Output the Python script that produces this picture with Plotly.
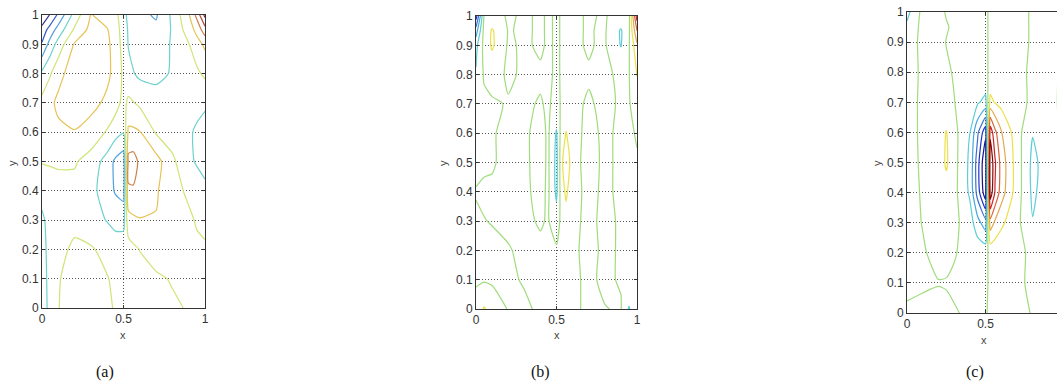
import plotly.graph_objects as go

# ---------------- data ----------------
xs_ab = [0, 0.05, 0.1, 0.2, 0.3, 0.4, 0.45, 0.5, 0.53, 0.56, 0.6, 0.7, 0.8, 0.9, 0.95, 1.0]
xs_c = [0, 0.1, 0.2, 0.25, 0.3, 0.4, 0.45, 0.5, 0.53, 0.56, 0.6, 0.7, 0.8, 0.9, 1.0]
ys = [0, 0.1, 0.2, 0.3, 0.4, 0.5, 0.6, 0.7, 0.8, 0.9, 0.95, 1.0]

z_a = [
    [-1.5, -0.7, -0.02, 0.3, 0.25, 0.1, -0.05, -0.3, -0.35, -0.35, -0.3, -0.2, -0.1, 0.05, 0.1, 0.15],
    [-1.4, -0.7, -0.05, 0.3, 0.25, 0.05, -0.2, -0.4, -0.4, -0.35, -0.3, -0.1, 0.05, 0.2, 0.2, 0.2],
    [-1.3, -0.7, -0.3, 0.2, 0.1, -0.3, -0.5, -0.5, -0.4, -0.2, 0.02, 0.3, 0.35, 0.3, 0.2, 0.15],
    [-1.2, -0.6, -0.5, -0.3, -0.6, -1.05, -1.3, -1.3, 0.6, 0.8, 0.95, 0.95, 0.6, 0.2, -0.1, -0.3],
    [-0.6, -0.5, -0.4, -0.3, -0.7, -1.5, -2.1, -2.4, 1.9, 1.9, 1.6, 1.1, 0.4, -0.2, -0.5, -0.8],
    [0.05, 0.1, 0.15, 0.1, -0.4, -1.4, -2.2, -2.6, 2.3, 2.4, 1.8, 1.4, 0.2, -0.8, -1.1, -1.3],
    [0.3, 0.5, 0.8, 0.95, 0.6, -0.1, -0.6, -0.95, 1.2, 1.2, 1.05, -0.1, -0.5, -0.9, -1.1, -1.25],
    [0.3, 0.8, 1.2, 1.5, 1.3, 0.8, 0.4, -0.3, 0.2, 0.05, -0.2, -0.5, -0.6, -0.7, -0.8, -0.9],
    [-0.8, -0.1, 0.7, 1.5, 1.7, 1.2, 0.7, -0.2, -0.7, -0.95, -1.2, -1.3, -0.9, -0.5, -0.2, 0.2],
    [-2.9, -1.6, -0.6, 1.1, 1.6, 1.2, 0.6, -0.4, -1.05, -1.3, -1.4, -1.5, -0.9, -0.05, 0.6, 1.2],
    [-3.6, -2.6, -1.6, 0.15, 1.3, 1.05, 0.5, -0.5, -1.1, -1.5, -1.7, -1.8, -0.9, 0.5, 1.3, 2.6],
    [-5.0, -3.9, -2.8, -0.6, 1.05, 0.6, 0.3, -0.6, -1.3, -1.6, -1.8, -2.1, -0.8, 0.9, 2.3, 4.3],
]

z_b = [
    [0.3, 1.1, 0.6, -0.05, -0.1, 0.1, 0.15, 0.1, 0.1, 0.15, 0.1, -0.1, -0.02, 0.05, -1.1, -0.2],
    [-0.1, -0.1, -0.15, -0.1, 0.05, 0.15, 0.1, 0.1, 0.15, 0.15, 0.1, -0.1, 0.1, -0.05, -0.1, -0.15],
    [-0.15, -0.15, -0.15, -0.05, 0.15, 0.1, 0.1, 0.15, 0.2, 0.2, 0.1, -0.15, 0.1, -0.05, -0.1, -0.1],
    [-0.05, -0.02, 0.03, 0.15, 0.1, -0.05, 0.05, -0.6, 0.3, 0.6, 0.1, -0.1, 0.1, -0.05, -0.1, -0.1],
    [0.02, 0.1, 0.08, 0.15, 0.1, -0.15, 0.1, -1.2, 0.5, 1.2, 0.2, -0.15, 0.1, -0.1, -0.1, -0.05],
    [-0.1, -0.1, -0.05, 0.15, 0.1, -0.2, 0.1, -1.3, 0.6, 2.02, 0.2, -0.2, 0.1, -0.1, -0.1, -0.05],
    [-0.15, -0.15, -0.05, 0.15, 0.1, -0.2, 0.1, -1.1, 0.4, 1.05, 0.2, -0.15, 0.1, -0.1, -0.1, 0.05],
    [-0.3, -0.2, -0.1, 0.05, 0.1, -0.05, 0.1, -0.3, 0.1, 0.3, 0.1, -0.05, 0.1, -0.05, -0.05, 0.3],
    [-0.9, 0.1, 0.3, -0.1, 0.1, 0.1, 0.1, -0.1, 0.05, 0.1, 0.1, 0.05, 0.1, -0.1, -0.05, 1.05],
    [-1.3, 0.3, 1.15, -0.1, 0.1, -0.1, 0.1, -0.1, 0.05, 0.1, 0.1, -0.05, 0.1, -1.05, -0.1, 1.8],
    [-2.5, 0.3, 1.1, -0.05, 0.1, -0.1, 0.1, -0.1, 0.05, 0.1, 0.1, -0.05, 0.1, -1.1, -0.2, 3.0],
    [-4.5, 0.1, 0.4, -0.1, 0.1, -0.1, 0.1, -0.1, 0.05, 0.1, 0.1, -0.05, 0.05, -0.3, -0.3, 4.5],
]

z_c = [
    [0.1, 0.2, 0.15, 0.1, 0.05, -0.1, -0.15, -0.05, 0.1, 0.15, 0.15, 0.1, -0.02, -0.15, 0.05],
    [-0.15, -0.1, -0.02, -0.03, -0.1, -0.2, -0.2, -0.1, 0.1, 0.15, 0.15, 0.1, -0.1, -0.15, 0.1],
    [-0.2, -0.05, 0.15, 0.15, 0.05, -0.24, -0.34, -0.34, 0.34, 0.31, 0.25, 0.12, -0.1, -0.15, 0.1],
    [-0.2, 0.02, 0.25, 0.3, 0.25, -0.52, -1.63, -2.58, 2.58, 1.83, 1.21, 0.27, -0.95, -0.3, 0.15],
    [-0.2, 0.05, 0.3, 0.6, 0.3, -1.15, -3.43, -5.7, 5.7, 3.95, 2.48, 0.48, -1.2, -0.4, 0.15],
    [-0.2, 0.08, 0.35, 1.15, 0.35, -1.2, -3.6, -6.0, 6.0, 4.15, 2.6, 0.5, -1.25, -0.5, 0.2],
    [-0.2, 0.1, 0.3, 1.05, 0.3, -0.98, -2.85, -4.7, 4.7, 3.27, 2.07, 0.41, -0.95, -0.35, 0.2],
    [-0.2, 0.1, 0.25, 0.2, 0.02, -0.4, -0.88, -1.28, 1.28, 0.95, 0.68, 0.18, -0.1, -0.2, 0.15],
    [-0.25, 0.1, 0.25, 0.1, -0.05, -0.22, -0.27, -0.22, 0.22, 0.23, 0.25, 0.16, -0.1, -0.15, 0.1],
    [-0.3, 0.15, 0.25, -0.02, -0.1, -0.2, -0.2, -0.1, 0.1, 0.15, 0.2, 0.15, -0.05, -0.15, 0.1],
    [-0.8, 0.3, 0.2, 0.05, -0.1, -0.2, -0.2, -0.1, 0.1, 0.15, 0.2, 0.15, -0.05, -0.15, 0.1],
    [-1.3, 0.3, 0.2, -0.05, -0.15, -0.2, -0.2, -0.1, 0.1, 0.15, 0.2, 0.15, -0.05, -0.15, 0.1],
]

x_tickvals = [0, 0.5, 1]
x_ticktext = ["0", "0.5", "1"]
y_tickvals = [0, 0.1, 0.2, 0.3, 0.4, 0.5, 0.6, 0.7, 0.8, 0.9, 1.0]
y_ticktext = ["0", "0.1", "0.2", "0.3", "0.4", "0.5", "0.6", "0.7", "0.8", "0.9", "1"]
panel_labels = ["(a)", "(b)", "(c)"]

# ---------------- styles ----------------
colors_a = ["rgb(40,40,140)", "rgb(50,90,200)", "rgb(80,160,220)", "rgb(110,210,205)",
            "rgb(205,230,120)", "rgb(230,195,85)", "rgb(205,130,75)", "rgb(185,70,55)",
            "rgb(140,25,30)"]
colors_bc = ["rgb(20,20,130)", "rgb(30,50,200)", "rgb(60,110,210)", "rgb(70,165,225)",
             "rgb(95,205,215)", "rgb(160,220,125)", "rgb(235,225,75)", "rgb(225,170,80)",
             "rgb(215,100,60)", "rgb(200,35,35)", "rgb(130,10,10)"]


def discrete_scale(cols):
    n = len(cols)
    return [[i / (n - 1), c] for i, c in enumerate(cols)]


W, H = 1057, 383
panels = [
    dict(x=xs_ab, z=z_a, lv=(-4, 4), cols=colors_a, px=(42, 205), py=(15, 308), xr=[0, 1],
         xt=(123, 335), yt=(12, 163), lab=(105, 372), right_box=True),
    dict(x=xs_ab, z=z_b, lv=(-5, 5), cols=colors_bc, px=(476, 637), py=(16, 309), xr=[0, 1],
         xt=(557, 335), yt=(443, 163), lab=(540, 372), right_box=True),
    dict(x=xs_c, z=z_c, lv=(-5, 5), cols=colors_bc, px=(907, 1057), py=(12, 313), xr=[0, 0.955],
         xt=(984, 340), yt=(877, 163), lab=(975, 372), right_box=False),
]

fig = go.Figure()
annotations = []
tickfont = dict(family="Liberation Sans, Arial, sans-serif", size=12, color="#333")
for i, p in enumerate(panels):
    sfx = "" if i == 0 else str(i + 1)
    fig.add_trace(go.Contour(
        x=p["x"], y=ys, z=p["z"],
        contours=dict(start=p["lv"][0], end=p["lv"][1], size=1, coloring="lines"),
        colorscale=discrete_scale(p["cols"]), showscale=False,
        line=dict(width=1.2, smoothing=0.6),
        xaxis="x" + sfx, yaxis="y" + sfx, hoverinfo="skip",
    ))
    xdom = [p["px"][0] / W, p["px"][1] / W]
    ydom = [1 - p["py"][1] / H, 1 - p["py"][0] / H]
    fig.layout["xaxis" + sfx] = dict(
        domain=xdom, range=p["xr"], anchor="y" + sfx, automargin=False,
        tickvals=x_tickvals, ticktext=x_ticktext, tickfont=tickfont,
        ticks="inside", ticklen=3, tickcolor="#333",
        showgrid=True, gridcolor="#555", griddash="1px,2px", gridwidth=1,
        zeroline=False, showline=True, linecolor="#333", linewidth=1, mirror="ticks",
    )
    fig.layout["yaxis" + sfx] = dict(
        domain=ydom, range=[0, 1], anchor="x" + sfx, automargin=False,
        tickvals=y_tickvals, ticktext=y_ticktext, tickfont=tickfont,
        ticks="inside", ticklen=3, tickcolor="#333",
        showgrid=True, gridcolor="#555", griddash="1px,2px", gridwidth=1,
        zeroline=False, showline=True, linecolor="#333", linewidth=1,
        mirror="ticks" if p["right_box"] else False,
    )
    annotations.append(dict(text="x", x=p["xt"][0] / W, y=1 - p["xt"][1] / H, xref="paper", yref="paper",
                            showarrow=False, xanchor="center", yanchor="middle",
                            font=dict(family="Liberation Sans, Arial", size=11, color="#444")))
    annotations.append(dict(text="y", x=p["yt"][0] / W, y=1 - p["yt"][1] / H, xref="paper", yref="paper",
                            showarrow=False, xanchor="center", yanchor="middle", textangle=-90,
                            font=dict(family="Liberation Sans, Arial", size=11, color="#444")))
    annotations.append(dict(text=panel_labels[i], x=p["lab"][0] / W, y=1 - p["lab"][1] / H,
                            xref="paper", yref="paper", showarrow=False,
                            xanchor="center", yanchor="middle",
                            font=dict(family="Liberation Serif, Times New Roman, serif", size=16, color="#111")))

fig.update_layout(
    width=W, height=H, autosize=False,
    margin=dict(l=0, r=0, t=0, b=0, autoexpand=False),
    paper_bgcolor="white", plot_bgcolor="white",
    showlegend=False, annotations=annotations,
)
fig.write_html("out.html",
               config={"displayModeBar": False},
               post_script="document.body.style.margin='0';document.body.style.padding='0';"
                           "document.body.style.overflow='hidden';")
